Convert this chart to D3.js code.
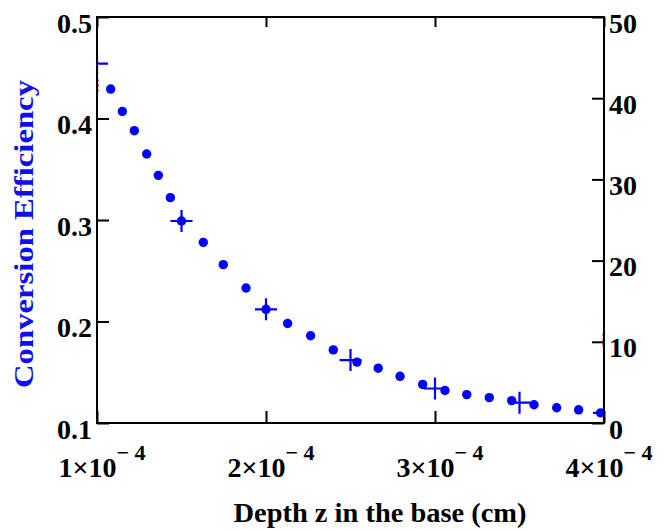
<!DOCTYPE html>
<html>
<head>
<meta charset="utf-8">
<script src="https://cdn.jsdelivr.net/npm/d3@7"></script>
<style>
body{margin:0;background:#fff;}
text{font-family:"Liberation Serif","Times New Roman",serif;font-weight:bold;}
</style>
</head>
<body>
<script>
// depth in units of 1e-4 cm
var dotDepth=[1.081,1.150,1.221,1.294,1.363,1.434,1.500,1.629,1.747,1.882,2.000,2.128,2.264,2.398,2.538,2.664,2.793,2.927,3.059,3.188,3.321,3.454,3.586,3.720,3.850,3.980];
var dotEff=[0.429,0.407,0.388,0.365,0.344,0.322,0.299,0.278,0.256,0.233,0.212,0.198,0.186,0.172,0.160,0.154,0.146,0.138,0.132,0.128,0.125,0.122,0.118,0.115,0.113,0.110];
var crossDepth=[1,1.5,2,2.5,3,3.5,4];
var crossEff=[0.454,0.299,0.212,0.162,0.134,0.120,0.110];
// red trace on right axis, only visible at the edges
var redDepth=[1,4];
var redVal=[41.5,10.2];

var xTicks=[1,2,3,4];
var yTicks=[0.1,0.2,0.3,0.4,0.5];
var y2Ticks=[0,10,20,30,40,50];

var W=668,H=530;
// plot box (note: "top" is taken by window.top)
var pL=97,pR=604,pT=17,pB=423;

var svg=d3.select('body').append('svg')
    .attr('width',W)
    .attr('height',H);

var x=d3.scaleLinear().domain([1,4]).range([pL,pR]);
var y=d3.scaleLinear().domain([0.1,0.5]).range([pB,pT]);
var y2=d3.scaleLinear().domain([0,50]).range([pB,pT]);

svg.append('clipPath').attr('id','plot')
    .append('rect').attr('x',pL).attr('y',pT)
    .attr('width',pR-pL).attr('height',pB-pT);

var g=svg.append('g').attr('clip-path','url(#plot)');

// red dashes
g.selectAll('.red').data(redDepth).enter().append('line')
    .attr('x1',function(d){return x(d)})
    .attr('x2',function(d){return x(d)})
    .attr('y1',function(d,i){return y2(redVal[i])-7})
    .attr('y2',function(d,i){return y2(redVal[i])+7})
    .attr('stroke','red').attr('stroke-width',3)
    .attr('stroke-dasharray','3,2');

// dots
g.selectAll('.dot').data(dotDepth).enter().append('circle')
    .attr('cx',function(d){return x(d)})
    .attr('cy',function(d,i){return y(dotEff[i])})
    .attr('r',4.7)
    .attr('fill','#0000ff');

// crosses
var cr=g.selectAll('.cross').data(crossDepth).enter().append('g')
    .attr('transform',function(d,i){return 'translate('+x(d)+','+y(crossEff[i])+')'});
cr.append('path')
    .attr('d','M-11,0H11M0,-11V11')
    .attr('stroke','#0000ff').attr('stroke-width',2.2)
    .attr('fill','none');

// frame
svg.append('rect').attr('x',pL).attr('y',pT)
    .attr('width',pR-pL).attr('height',pB-pT)
    .attr('fill','none').attr('stroke','#000').attr('stroke-width',2);

// axes, ticks inward
var axL=svg.append('g').attr('transform','translate('+pL+',0)')
    .call(d3.axisRight(y).tickValues(yTicks).tickSize(12).tickFormat(''));
var axR=svg.append('g').attr('transform','translate('+pR+',0)')
    .call(d3.axisLeft(y2).tickValues(y2Ticks).tickSize(12).tickFormat(''));
var axB=svg.append('g').attr('transform','translate(0,'+pB+')')
    .call(d3.axisTop(x).tickValues(xTicks).tickSize(12).tickFormat(''));
var axT=svg.append('g').attr('transform','translate(0,'+pT+')')
    .call(d3.axisBottom(x).tickValues(xTicks).tickSize(10).tickFormat(''));
[axL,axR,axB,axT].forEach(function(a){
    a.select('.domain').remove();
    a.selectAll('line').attr('stroke','#000').attr('stroke-width',2);
});

// tick labels
svg.selectAll('.yl').data(yTicks).enter().append('text')
    .attr('x',92).attr('y',function(d){return y(d)+6})
    .attr('text-anchor','end').attr('dominant-baseline','central')
    .attr('font-size',28).attr('fill','#000')
    .text(function(d){return d3.format('.1f')(d)});

svg.selectAll('.y2l').data(y2Ticks).enter().append('text')
    .attr('x',609).attr('y',function(d){return y2(d)+6})
    .attr('text-anchor','start').attr('dominant-baseline','central')
    .attr('font-size',28).attr('fill','#000')
    .text(function(d){return d});

var xl=svg.selectAll('.xl').data(xTicks).enter().append('text')
    .attr('x',function(d){return x(d)+5}).attr('y',477)
    .attr('text-anchor','middle')
    .attr('font-size',28).attr('fill','#000');
xl.append('tspan').text(function(d){return d+'×10'});
xl.append('tspan').attr('dy',-17).attr('font-size',22).text('\u2212 4');

// axis titles
svg.append('text')
    .attr('x',380).attr('y',522)
    .attr('text-anchor','middle')
    .attr('font-size',28).attr('fill','#000')
    .attr('textLength',293).attr('lengthAdjust','spacingAndGlyphs')
    .text('Depth z in the base (cm)');

svg.append('text')
    .attr('transform','translate(33,234) rotate(-90)')
    .attr('text-anchor','middle')
    .attr('font-size',28).attr('fill','#1010ee')
    .attr('textLength',308).attr('lengthAdjust','spacingAndGlyphs')
    .text('Conversion Efficiency');
</script>
</body>
</html>
